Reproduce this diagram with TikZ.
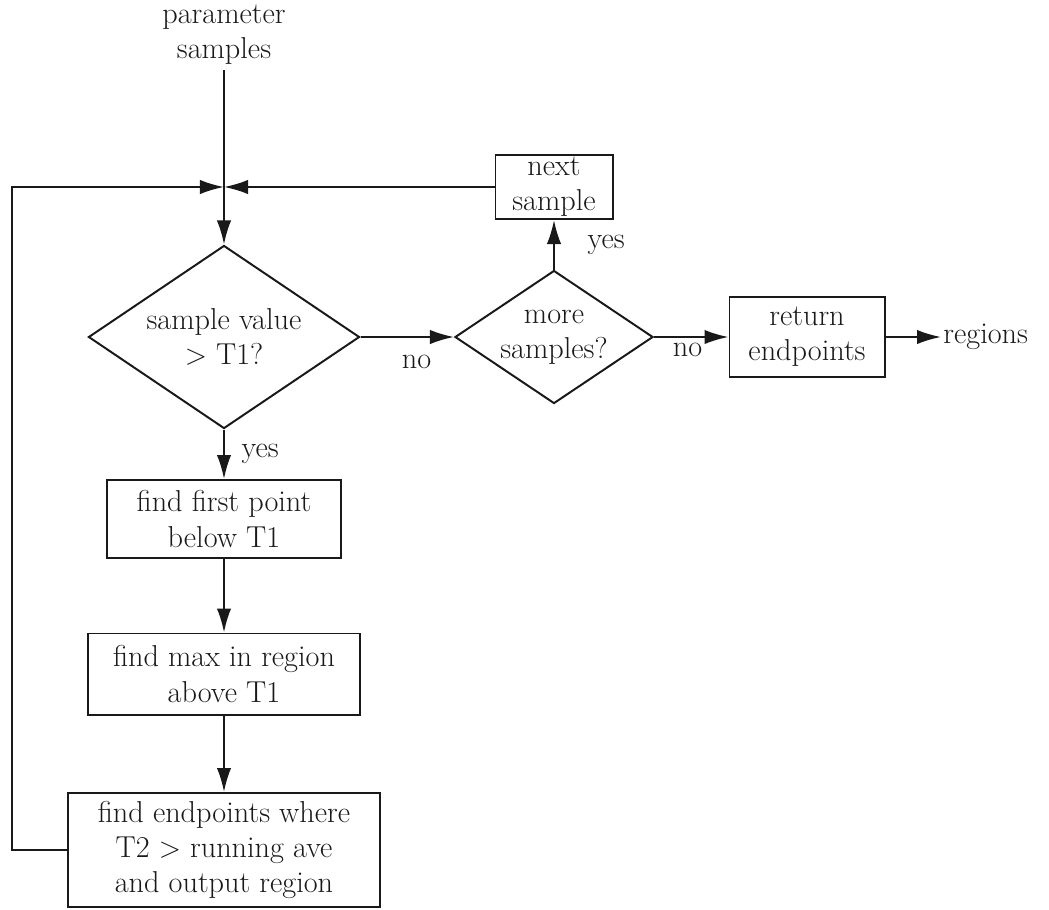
\documentclass[tikz,border=0pt]{standalone}
\usepackage{tikz}
\usetikzlibrary{shapes.geometric, arrows.meta, positioning}

\begin{document}
\begin{tikzpicture}[x=0.025cm, y=-0.025cm, >={Latex[length=6mm, width=3.6mm]},
					line width=1.4pt, color=black!90,
					every node/.style={font=\fontsize{21.5}{25}\selectfont},
					process/.style={rectangle, draw, align=center, inner sep=0pt},
					decision/.style={diamond, draw, align=center, inner sep=-3pt, aspect=1.48},
					arrow/.style={->}
				]
					\useasboundingbox (0,0) rectangle (1049,909);
					
					% Nodes
					\node[align=center] (params) at (224,35) {parameter\\samples};
					\coordinate (join) at (224,187);
					\coordinate (loop) at (12,187);
					\node[decision, minimum width=6.775cm, minimum height=4.575cm] (sample) at (224,337) {sample value\\$>$ T1?};
					\node[decision, minimum width=4.95cm, minimum height=3.325cm] (more) at (554,337) {more\\samples?};
					\node[process, minimum width=2.925cm, minimum height=1.6cm] (next) at (554,187) {next\\sample};
					\node[process, minimum width=3.875cm, minimum height=2cm] (ret) at (807,337) {return\\endpoints};
					\node[anchor=west, inner sep=1pt] (regions) at (941,337) {regions};
					\node[process, minimum width=5.825cm, minimum height=1.95cm] (first) at (224,519) {find first point\\below T1};
					\node[process, minimum width=6.8cm, minimum height=2.025cm] (max) at (224,674) {find max in region\\above T1};
					\node[process, minimum width=7.8cm, minimum height=2.85cm] (out) at (224,850) {find endpoints where\\T2 $>$ running ave\\and output region};
					
					% Arrows
					\draw[arrow] (params) -- (sample);
					\draw[arrow] (next) -- (join);
					\draw[arrow] (out.west) -| (loop) -- (join);
					\draw[arrow] (sample) -- node[pos=0.6, below=3mm] {no} (more);
					\draw[arrow] (more) -- node[right=7mm] {yes} (next);
					\draw[arrow] (more) -- node[pos=0.45, below] {no} (ret);
					\draw[arrow] (ret) -- (regions);
					\draw[arrow] (sample) -- node[right=3mm] {yes} (first);
					\draw[arrow] (first) -- (max);
					\draw[arrow] (max) -- (out);
				\end{tikzpicture}
\end{document}
